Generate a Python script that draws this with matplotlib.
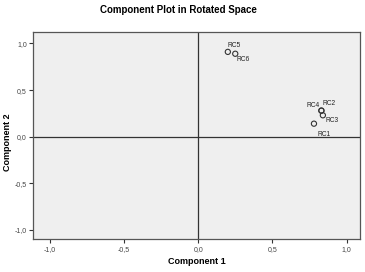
import matplotlib
matplotlib.use("Agg")
import matplotlib.pyplot as plt
from matplotlib.ticker import FuncFormatter

plt.rcParams['font.family'] = ['Liberation Sans', 'DejaVu Sans']

labels = ["RC1", "RC2", "RC3", "RC4", "RC5", "RC6"]
comp1 = [0.78, 0.83, 0.84, 0.83, 0.20, 0.25]
comp2 = [0.14, 0.28, 0.23, 0.28, 0.91, 0.89]
ticks = [-1.0, -0.5, 0.0, 0.5, 1.0]

# label offsets in points (placement style only)
offsets = {"RC1": (7, -8), "RC2": (5.5, 5), "RC3": (6.5, -4), "RC4": (-6, 3.5),
           "RC5": (4.5, 4.5), "RC6": (6, -4.3)}

fig = plt.figure(figsize=(3.65, 2.72), dpi=100)
ax = fig.add_axes([33/365, 1-239.3/272, (360-33)/365, (239.3-32.3)/272])
ax.set_facecolor('#efefef')
ax.set_xlim(-1.112, 1.09)
ax.set_ylim(-1.10, 1.12)

ax.axhline(0, color='#333333', lw=0.9, zorder=1)
ax.axvline(0, color='#333333', lw=0.9, zorder=1)

ax.scatter(comp1, comp2, s=14, facecolors='none', edgecolors='#333333', linewidths=0.8, zorder=3)
for lab, x, y in zip(labels, comp1, comp2):
    dx, dy = offsets[lab]
    ax.annotate(lab, (x, y), xytext=(dx, dy), textcoords='offset points',
                fontsize=4.8, color='#222222', ha='center', va='center')

fmt = FuncFormatter(lambda v, p: f"{v:.1f}".replace('.', ','))
ax.set_xticks(ticks)
ax.set_yticks(ticks)
ax.xaxis.set_major_formatter(fmt)
ax.yaxis.set_major_formatter(fmt)
ax.tick_params(axis='both', direction='out', length=3, width=0.8, color='#333333',
               labelsize=5, labelcolor='#444444', pad=1.5)
for s in ax.spines.values():
    s.set_color('#555555')
    s.set_linewidth(0.9)

ax.set_xlabel("Component 1", fontsize=6.5, fontweight='bold', labelpad=3)
ax.set_ylabel("Component 2", fontsize=6.5, fontweight='bold')
ax.yaxis.set_label_coords(-(33-12)/327, 0.47)
fig.text(178/365, 1-10/272, "Component Plot in Rotated Space", fontsize=7,
         fontweight='bold', ha='center', va='center')

fig.savefig("out.png", dpi=100, facecolor='white')
